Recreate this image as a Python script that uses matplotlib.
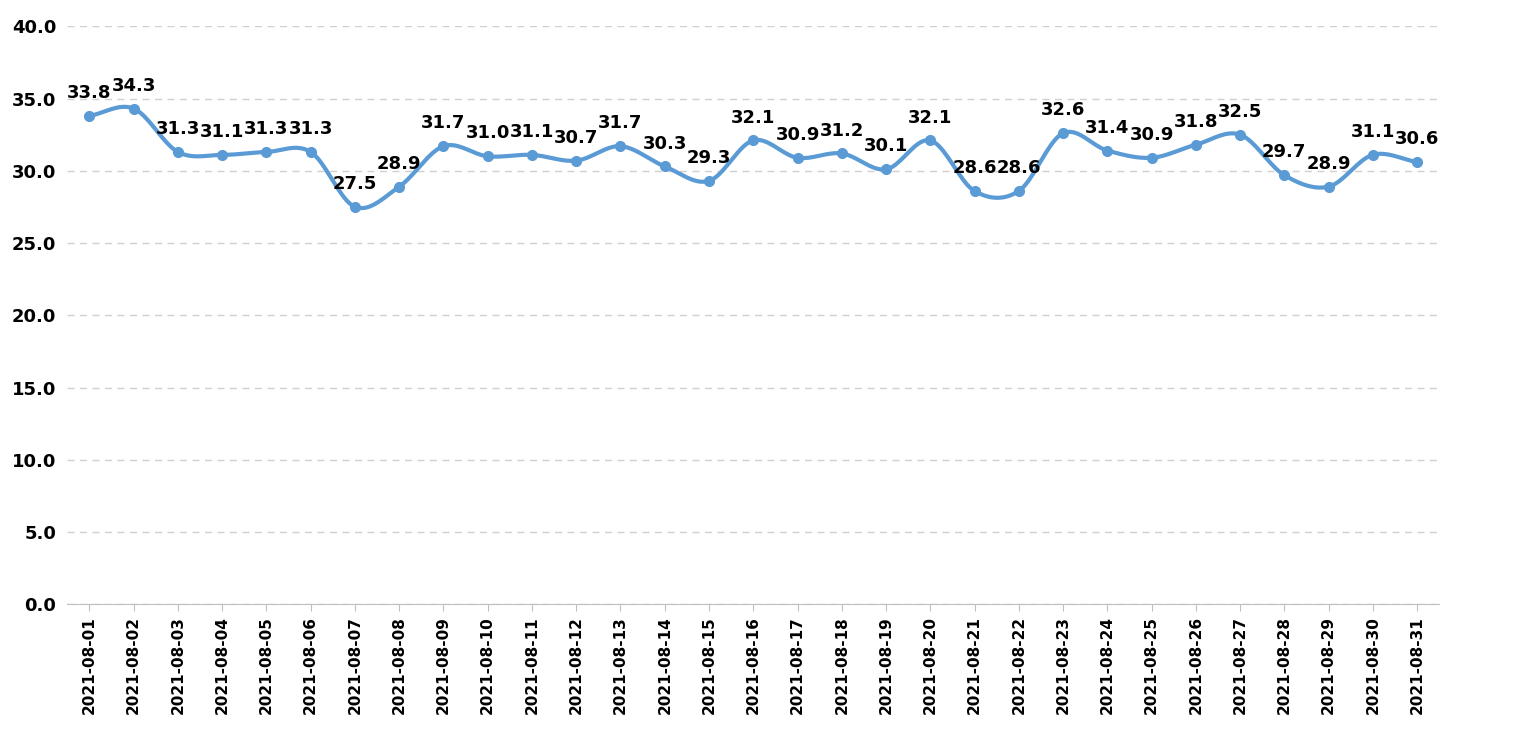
import numpy as np
import matplotlib.pyplot as plt

dates = [f"2021-08-{d:02d}" for d in range(1, 32)]
values = [33.8, 34.3, 31.3, 31.1, 31.3, 31.3, 27.5, 28.9, 31.7, 31.0, 31.1,
          30.7, 31.7, 30.3, 29.3, 32.1, 30.9, 31.2, 30.1, 32.1, 28.6, 28.6,
          32.6, 31.4, 30.9, 31.8, 32.5, 29.7, 28.9, 31.1, 30.6]
yticks = [0, 5, 10, 15, 20, 25, 30, 35, 40]


def smooth(x, y, n=20):
    # Catmull-Rom curve through the points, like Excel's smoothed line
    x = np.asarray(x, float)
    y = np.asarray(y, float)
    px = np.concatenate([[2 * x[0] - x[1]], x, [2 * x[-1] - x[-2]]])
    py = np.concatenate([[2 * y[0] - y[1]], y, [2 * y[-1] - y[-2]]])
    xs, ys = [], []
    t = np.linspace(0, 1, n, endpoint=False)
    for i in range(1, len(px) - 2):
        for p, out in ((px, xs), (py, ys)):
            p0, p1, p2, p3 = p[i - 1], p[i], p[i + 1], p[i + 2]
            out.extend(0.5 * (2 * p1 + (-p0 + p2) * t
                              + (2 * p0 - 5 * p1 + 4 * p2 - p3) * t ** 2
                              + (-p0 + 3 * p1 - 3 * p2 + p3) * t ** 3))
    xs.append(x[-1])
    ys.append(y[-1])
    return np.array(xs), np.array(ys)


fig = plt.figure(figsize=(15.31, 7.29), dpi=100)
ax = fig.add_axes([0.044, 0.171, 0.896, 0.793])

x = np.arange(len(values))
sx, sy = smooth(x, values)
color = "#5B9BD5"
ax.plot(sx, sy, color=color, linewidth=3, zorder=2)
ax.plot(x, values, "o", color=color, markersize=7, zorder=3)

for xi, v in zip(x, values):
    ax.annotate(f"{v:.1f}", (xi, v), xytext=(0, 10), textcoords="offset points",
                ha="center", va="bottom", fontsize=13, fontweight="bold")

ax.set_xlim(-0.5, len(values) - 0.5)
ax.set_ylim(0, 40)
ax.set_yticks(yticks)
ax.set_yticklabels([f"{t:.1f}" for t in yticks], fontsize=13, fontweight="bold")
ax.set_xticks(x)
ax.set_xticklabels(dates, rotation=90, fontsize=11, fontweight="bold")
ax.yaxis.grid(True, linestyle=(0, (5, 4)), color="#D0D0D0", linewidth=1)
ax.set_axisbelow(True)
for s in ["top", "right", "left"]:
    ax.spines[s].set_visible(False)
ax.spines["bottom"].set_color("#BFBFBF")
ax.tick_params(axis="y", length=0, pad=8)
ax.tick_params(axis="x", color="#BFBFBF", length=5)

fig.savefig("out.png", dpi=100)
